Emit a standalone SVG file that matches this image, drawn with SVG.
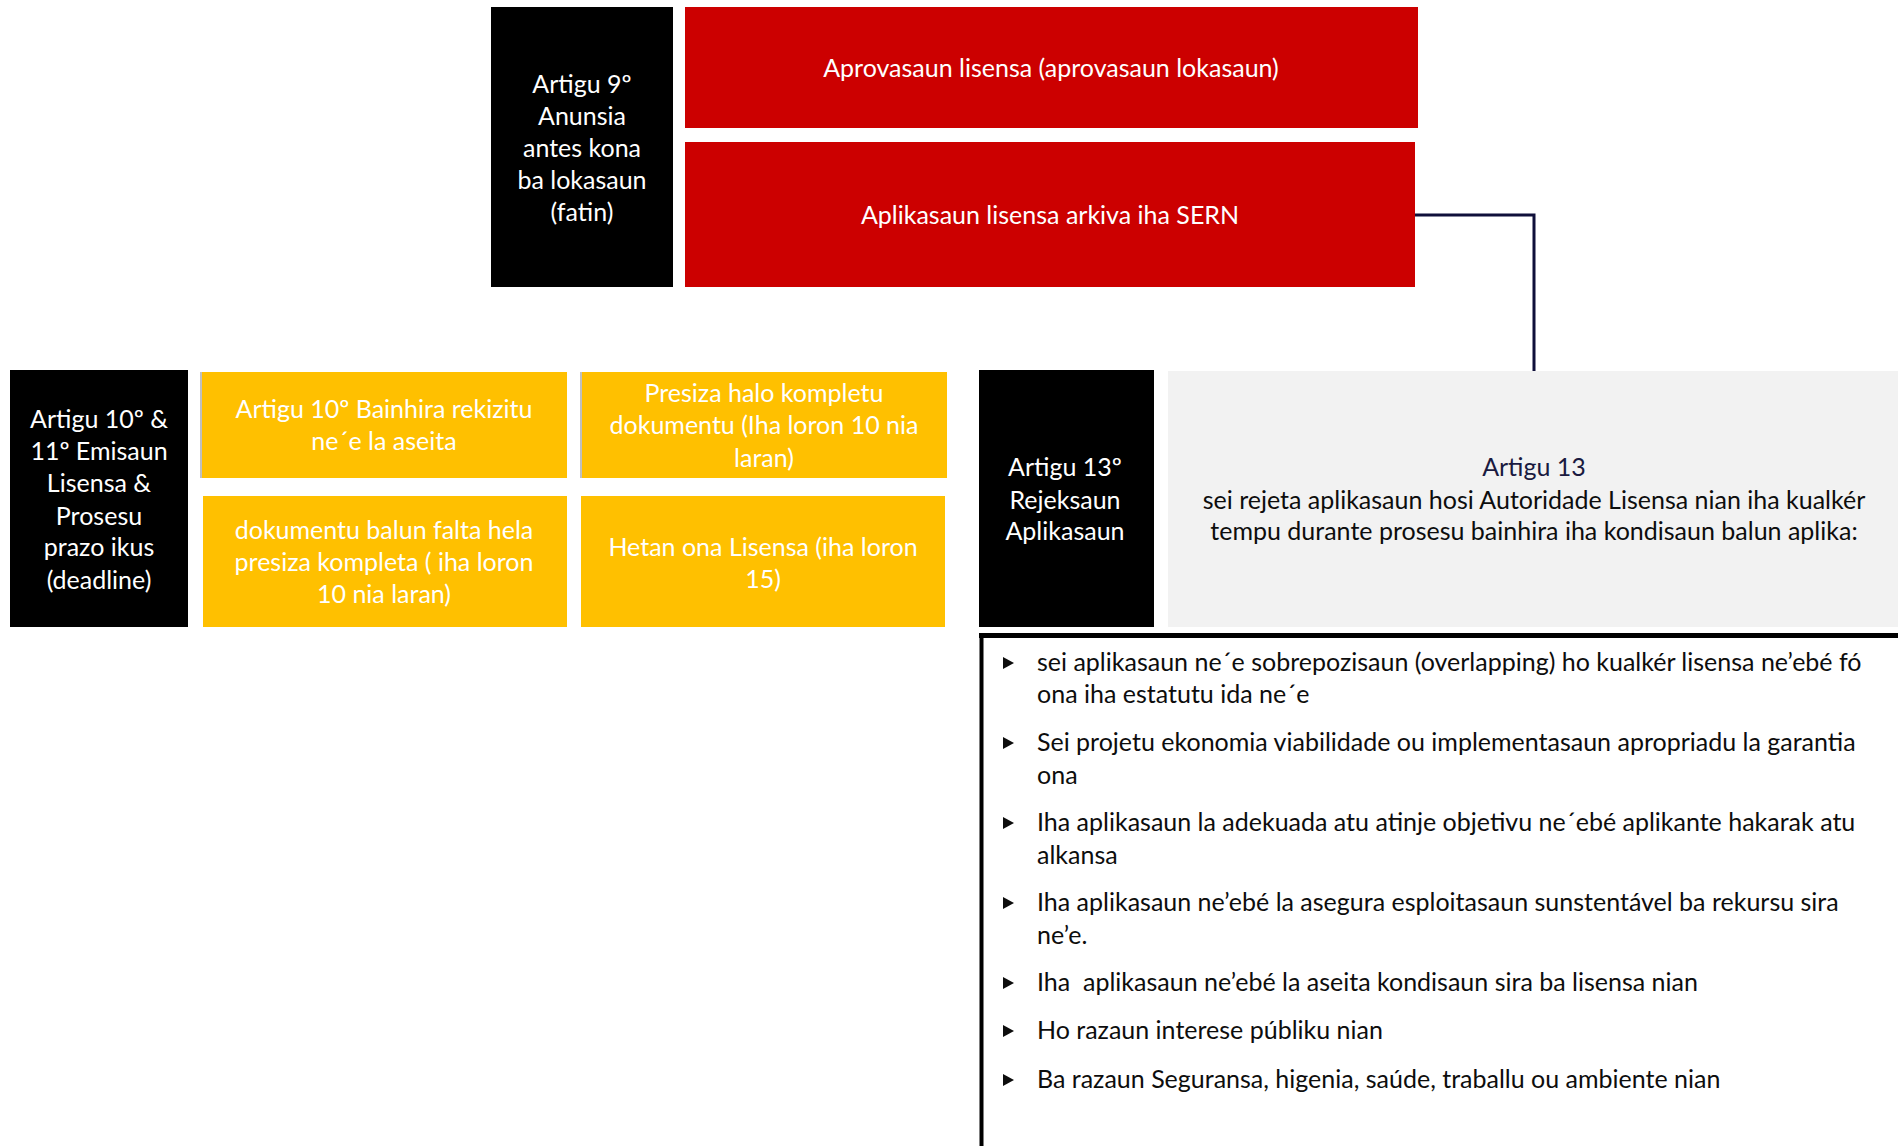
<svg xmlns="http://www.w3.org/2000/svg" width="1898" height="1146" viewBox="0 0 1898 1146">
<style>
text{font-family:Lato,"Open Sans","Liberation Sans",sans-serif;font-size:25px;text-anchor:middle}
.w{fill:#ffffff}
.d{fill:#0d0d0d}
.n{fill:#1a1a40}
.b{text-anchor:start;fill:#0d0d0d}
.blk{fill:#000000}
.red{fill:#cc0000}
.yel{fill:#ffc000}
.gry{fill:#f2f2f2}
</style>
<defs>
<polygon id="tri" points="0,-6 11,0 0,6" fill="#0d0d0d"/>
</defs>
<g id="connectors">
<polyline points="1415,215 1534,215 1534,371" fill="none" stroke="#0f0f3a" stroke-width="3"/>
</g>
<g id="n-art9">
<rect class="blk" x="491" y="7" width="182" height="280"/>
<text class="w" x="582" y="93">Artigu 9º</text>
<text class="w" x="582" y="125">Anunsia</text>
<text class="w" x="582" y="157">antes kona</text>
<text class="w" x="582" y="189">ba lokasaun</text>
<text class="w" x="582" y="221">(fatin)</text>
</g>
<g id="n-aprovasaun">
<rect class="red" x="685" y="7" width="733" height="121"/>
<text class="w" x="1051" y="77">Aprovasaun lisensa (aprovasaun lokasaun)</text>
</g>
<g id="n-aplikasaun">
<rect class="red" x="685" y="142" width="730" height="145"/>
<text class="w" x="1050" y="224">Aplikasaun lisensa arkiva iha SERN</text>
</g>
<g id="n-art10">
<rect class="blk" x="10" y="370" width="178" height="257"/>
<text class="w" x="99" y="428">Artigu 10º &amp;</text>
<text class="w" x="99" y="460">11º Emisaun</text>
<text class="w" x="99" y="492">Lisensa &amp;</text>
<text class="w" x="99" y="525">Prosesu</text>
<text class="w" x="99" y="556">prazo ikus</text>
<text class="w" x="99" y="589">(deadline)</text>
</g>
<g id="n-bainhira">
<rect class="yel" x="201" y="372" width="366" height="106"/>
<rect x="200" y="372" width="2" height="106" fill="#bfbfbf"/>
<text class="w" x="384" y="418">Artigu 10º Bainhira rekizitu</text>
<text class="w" x="384" y="450">ne´e la aseita</text>
</g>
<g id="n-presiza">
<rect class="yel" x="581" y="372" width="366" height="106"/>
<rect x="580" y="372" width="2" height="106" fill="#bfbfbf"/>
<text class="w" x="764" y="402">Presiza halo kompletu</text>
<text class="w" x="764" y="434">dokumentu (Iha loron 10 nia</text>
<text class="w" x="764" y="467">laran)</text>
</g>
<g id="n-dokumentu">
<rect class="yel" x="203" y="496" width="364" height="131"/>
<text class="w" x="384" y="539">dokumentu balun falta hela</text>
<text class="w" x="384" y="571">presiza kompleta ( iha loron</text>
<text class="w" x="384" y="603">10 nia laran)</text>
</g>
<g id="n-hetan">
<rect class="yel" x="581" y="496" width="364" height="131"/>
<text class="w" x="763" y="556">Hetan ona Lisensa (iha loron</text>
<text class="w" x="763" y="588">15)</text>
</g>
<g id="n-art13">
<rect class="blk" x="979" y="370" width="175" height="257"/>
<text class="w" x="1065" y="476">Artigu 13º</text>
<text class="w" x="1065" y="509">Rejeksaun</text>
<text class="w" x="1065" y="540">Aplikasaun</text>
</g>
<g id="n-art13-desc">
<rect class="gry" x="1168" y="371" width="730" height="256"/>
<text class="n" x="1534" y="476">Artigu 13</text>
<text class="d" x="1534" y="509">sei rejeta aplikasaun hosi Autoridade Lisensa nian iha kualkér</text>
<text class="d" x="1534" y="540">tempu durante prosesu bainhira iha kondisaun balun aplika:</text>
</g>
<g id="n-kondisaun">
<polyline points="981.5,1146 981.5,636 1898,636" fill="none" stroke="#000000" stroke-width="4"/>
<rect x="979" y="633" width="919" height="5" fill="#000000"/>
<use href="#tri" x="1003" y="663"/>
<text class="b" x="1037" y="671">sei aplikasaun ne´e sobrepozisaun (overlapping) ho kualkér lisensa ne’ebé fó</text>
<text class="b" x="1037" y="703">ona iha estatutu ida ne´e</text>
<use href="#tri" x="1003" y="743"/>
<text class="b" x="1037" y="751">Sei projetu ekonomia viabilidade ou implementasaun apropriadu la garantia</text>
<text class="b" x="1037" y="784">ona</text>
<use href="#tri" x="1003" y="823"/>
<text class="b" x="1037" y="831">Iha aplikasaun la adekuada atu atinje objetivu ne´ebé aplikante hakarak atu</text>
<text class="b" x="1037" y="864">alkansa</text>
<use href="#tri" x="1003" y="903"/>
<text class="b" x="1037" y="911">Iha aplikasaun ne’ebé la asegura esploitasaun sunstentável ba rekursu sira</text>
<text class="b" x="1037" y="944">ne’e.</text>
<use href="#tri" x="1003" y="983"/>
<text class="b" x="1037" y="991" xml:space="preserve">Iha  aplikasaun ne’ebé la aseita kondisaun sira ba lisensa nian</text>
<use href="#tri" x="1003" y="1031"/>
<text class="b" x="1037" y="1039">Ho razaun interese públiku nian</text>
<use href="#tri" x="1003" y="1080"/>
<text class="b" x="1037" y="1088">Ba razaun Seguransa, higenia, saúde, traballu ou ambiente nian</text>
</g>
</svg>
